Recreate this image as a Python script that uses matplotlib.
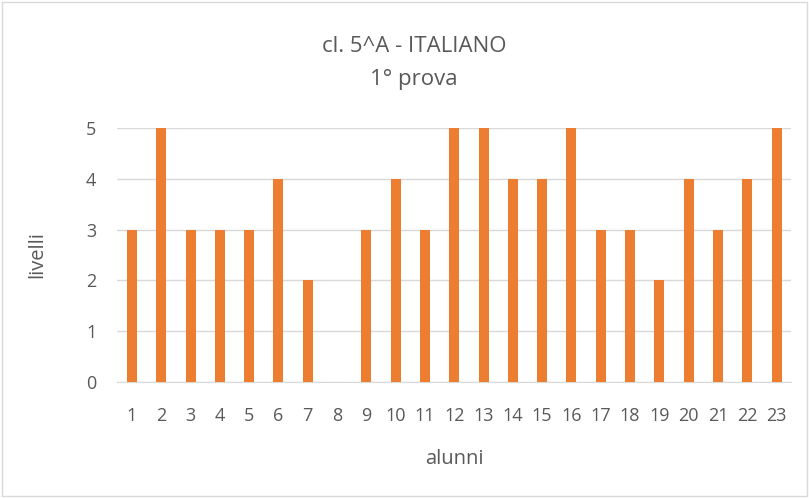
import matplotlib
matplotlib.use("Agg")
from matplotlib import pyplot as plt
from matplotlib.patches import Rectangle

plt.rcParams['font.family'] = ['Open Sans', 'DejaVu Sans']

alunni = [str(i) for i in range(1, 24)]
livelli = [3, 5, 3, 3, 3, 4, 2, 0, 3, 4, 3, 5, 5, 4, 4, 5, 3, 3, 2, 4, 3, 4, 5]

fig = plt.figure(figsize=(8.09, 4.98), dpi=100)
ax = fig.add_axes([0.145, 0.233, 0.833, 0.510])

x = list(range(len(alunni)))
ax.bar(x, livelli, width=0.34, color='#ED7D31', zorder=3)

ax.set_xlim(-0.5, len(alunni) - 0.5)
ax.set_ylim(0, 5)
ax.set_yticks(range(0, 6))
ax.set_xticks(x)
ax.set_xticklabels(alunni)
ax.grid(axis='y', color='#D9D9D9', linewidth=1, zorder=0)
for s in ['top', 'right', 'left']:
    ax.spines[s].set_visible(False)
ax.spines['bottom'].set_color('#D9D9D9')
ax.tick_params(length=0, labelsize=13, colors='#595959')
ax.tick_params(axis='x', pad=18)
ax.tick_params(axis='y', pad=15)

ax.set_xlabel('alunni', fontsize=14.5, color='#595959', labelpad=17)
ax.set_ylabel('livelli', fontsize=14.5, color='#595959', labelpad=28)
fig.text(0.512, 0.874, 'cl. 5^A - ITALIANO\n1° prova', ha='center', va='center',
         fontsize=16, color='#595959', linespacing=1.75)

# bordo del grafico
fig.patches.append(Rectangle((0.003, 0.004), 0.994, 0.992, transform=fig.transFigure,
                             fill=False, edgecolor='#D9D9D9', linewidth=1))

plt.savefig('out.png', dpi=100)
